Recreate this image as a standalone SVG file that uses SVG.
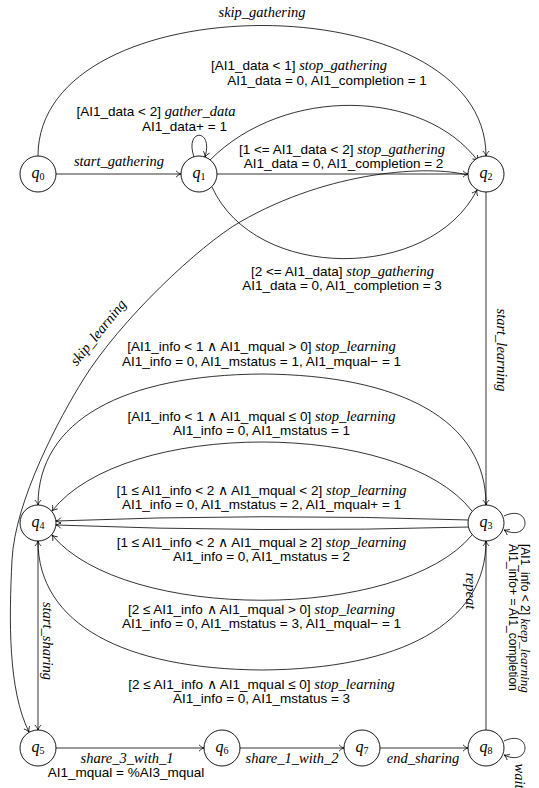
<svg xmlns="http://www.w3.org/2000/svg" width="539" height="788" viewBox="0 0 539 788">
<style>
.e{fill:none;stroke:#000;stroke-width:0.8}
.a{marker-end:url(#arr)}
.n{fill:#fff;stroke:#000;stroke-width:0.9}
.s{font-family:"Liberation Sans",Arial,sans-serif;font-size:13.5px;fill:#000}
.i{font-family:"Liberation Serif","Times New Roman",serif;font-style:italic;font-size:14.5px;fill:#000}
.sm{font-size:12px}
.ism{font-size:13px}
.q{font-family:"Liberation Serif","Times New Roman",serif;font-style:italic;font-size:16px;fill:#000}
.sub{font-style:normal;font-size:10px}
</style>
<defs>
<marker id="arr" viewBox="-6 -4 7 8" refX="0" refY="0" markerWidth="7" markerHeight="8" markerUnits="userSpaceOnUse" orient="auto">
<path d="M-5,-3.2 C-3.5,-1.5 -1.2,-0.3 0,0 C-1.2,0.3 -3.5,1.5 -5,3.2" fill="none" stroke="#000" stroke-width="0.8"/>
</marker>
</defs>
<rect width="539" height="788" fill="#fff"/>
<g id="connectors">
<path class="e a" d="M38,156 C38,-18 486,-18 486,156"/>
<path class="e a" d="M56,174 L181,174"/>
<path class="e a" d="M194,157 C184,128 214,128 205,157"/>
<path class="e a" d="M210,160 C285,85 424,89 478,161"/>
<path class="e a" d="M217,174 L468,174"/>
<path class="e a" d="M212,187 C255,282 430,282 477,190"/>
<path class="e a" d="M467,175 C430,165 330,170 240,222 C200,245 120,320 83,380 C60,417 15,500 12,560 C9,620 8,690 29,732"/>
<path class="e a" d="M486,192 L486,505"/>
<path class="e a" d="M486,505 C486,420 400,375 262,374 C124,375 38,420 38,505"/>
<path class="e a" d="M472,511 C400,419 124,419 52,511"/>
<path class="e a" d="M469,520 Q262,513 56,521"/>
<path class="e a" d="M469,527 Q262,533 56,525"/>
<path class="e a" d="M472,535 C400,622 124,622 52,535"/>
<path class="e a" d="M486,541 C486,624 400,669 262,670 C124,669 38,624 38,541"/>
<path class="e a" d="M38,541 L38,730"/>
<path class="e a" d="M486,730 L486,541"/>
<path class="e a" d="M504,741 C532,728 532,768 504,755"/>
<path class="e a" d="M504,516 C532,503 532,543 504,530"/>
<path class="e a" d="M56,748 L204,748"/>
<path class="e a" d="M240,748 L344,748"/>
<path class="e a" d="M380,748 L468,748"/>
</g>
<g id="labels">
<text class="i" x="262" y="17" text-anchor="middle">skip_gathering</text>
<text class="s" x="299" y="70" text-anchor="middle">[AI1_data &lt; 1] <tspan class="i">stop_gathering</tspan></text>
<text class="s" x="327" y="84.5" text-anchor="middle">AI1_data = 0, AI1_completion = 1</text>
<text class="s" x="156" y="116" text-anchor="middle">[AI1_data &lt; 2] <tspan class="i">gather_data</tspan></text>
<text class="s" x="184.5" y="130.5" text-anchor="middle">AI1_data+ = 1</text>
<text class="i" x="119" y="166" text-anchor="middle">start_gathering</text>
<text class="s" x="342" y="154" text-anchor="middle">[1 &lt;= AI1_data &lt; 2] <tspan class="i">stop_gathering</tspan></text>
<text class="s" x="343.5" y="167.5" text-anchor="middle">AI1_data = 0, AI1_completion = 2</text>
<text class="s" x="342.5" y="276" text-anchor="middle">[2 &lt;= AI1_data] <tspan class="i">stop_gathering</tspan></text>
<text class="s" x="342" y="290" text-anchor="middle">AI1_data = 0, AI1_completion = 3</text>
<text class="i" transform="translate(101.8,335.4) rotate(-51)" text-anchor="middle">skip_learning</text>
<text class="i" transform="translate(497,350) rotate(90)" text-anchor="middle">start_learning</text>
<text class="s" x="261.5" y="351" text-anchor="middle">[AI1_info &lt; 1 ∧ AI1_mqual &gt; 0] <tspan class="i">stop_learning</tspan></text>
<text class="s" x="261.5" y="365.5" text-anchor="middle">AI1_info = 0, AI1_mstatus = 1, AI1_mqual− = 1</text>
<text class="s" x="261.5" y="421" text-anchor="middle">[AI1_info &lt; 1 ∧ AI1_mqual ≤ 0] <tspan class="i">stop_learning</tspan></text>
<text class="s" x="261.5" y="435" text-anchor="middle">AI1_info = 0, AI1_mstatus = 1</text>
<text class="s" x="261.5" y="494.5" text-anchor="middle">[1 ≤ AI1_info &lt; 2 ∧ AI1_mqual &lt; 2] <tspan class="i">stop_learning</tspan></text>
<text class="s" x="261.5" y="509" text-anchor="middle">AI1_info = 0, AI1_mstatus = 2, AI1_mqual+ = 1</text>
<text class="s" x="261.5" y="546.5" text-anchor="middle">[1 ≤ AI1_info &lt; 2 ∧ AI1_mqual ≥ 2] <tspan class="i">stop_learning</tspan></text>
<text class="s" x="261.5" y="561" text-anchor="middle">AI1_info = 0, AI1_mstatus = 2</text>
<text class="s" x="261.5" y="614" text-anchor="middle">[2 ≤ AI1_info ∧ AI1_mqual &gt; 0] <tspan class="i">stop_learning</tspan></text>
<text class="s" x="261.5" y="628" text-anchor="middle">AI1_info = 0, AI1_mstatus = 3, AI1_mqual− = 1</text>
<text class="s" x="261.5" y="688.5" text-anchor="middle">[2 ≤ AI1_info ∧ AI1_mqual ≤ 0] <tspan class="i">stop_learning</tspan></text>
<text class="s" x="261.5" y="702.5" text-anchor="middle">AI1_info = 0, AI1_mstatus = 3</text>
<text class="i" transform="translate(43,641) rotate(90)" text-anchor="middle">start_sharing</text>
<text class="i" transform="translate(466,591) rotate(90)" text-anchor="middle">repeat</text>
<text class="s sm" transform="translate(521,544) rotate(90)">[AI1_info &lt; 2] <tspan class="i ism">keep_learning</tspan></text>
<text class="s sm" transform="translate(509,544) rotate(90)">AI1_info+ = AI1_completion</text>
<text class="i" transform="translate(515,776) rotate(90)" text-anchor="middle">wait</text>
<text class="i" x="127" y="763" text-anchor="middle">share_3_with_1</text>
<text class="s" x="126" y="777" text-anchor="middle">AI1_mqual = %AI3_mqual</text>
<text class="i" x="292" y="763" text-anchor="middle">share_1_with_2</text>
<text class="i" x="423" y="763" text-anchor="middle">end_sharing</text>
</g>
<g id="q0"><circle class="n" cx="38" cy="174" r="18"/><text class="q" x="38" y="178" text-anchor="middle">q<tspan class="sub" dy="2">0</tspan></text></g>
<g id="q1"><circle class="n" cx="199" cy="174" r="18"/><text class="q" x="199" y="178" text-anchor="middle">q<tspan class="sub" dy="2">1</tspan></text></g>
<g id="q2"><circle class="n" cx="486" cy="174" r="18"/><text class="q" x="486" y="178" text-anchor="middle">q<tspan class="sub" dy="2">2</tspan></text></g>
<g id="q3"><circle class="n" cx="486" cy="523" r="18"/><text class="q" x="486" y="527" text-anchor="middle">q<tspan class="sub" dy="2">3</tspan></text></g>
<g id="q4"><circle class="n" cx="38" cy="523" r="18"/><text class="q" x="38" y="527" text-anchor="middle">q<tspan class="sub" dy="2">4</tspan></text></g>
<g id="q5"><circle class="n" cx="38" cy="748" r="18"/><text class="q" x="38" y="752" text-anchor="middle">q<tspan class="sub" dy="2">5</tspan></text></g>
<g id="q6"><circle class="n" cx="222" cy="748" r="18"/><text class="q" x="222" y="752" text-anchor="middle">q<tspan class="sub" dy="2">6</tspan></text></g>
<g id="q7"><circle class="n" cx="362" cy="748" r="18"/><text class="q" x="362" y="752" text-anchor="middle">q<tspan class="sub" dy="2">7</tspan></text></g>
<g id="q8"><circle class="n" cx="486" cy="748" r="18"/><text class="q" x="486" y="752" text-anchor="middle">q<tspan class="sub" dy="2">8</tspan></text></g>
</svg>
